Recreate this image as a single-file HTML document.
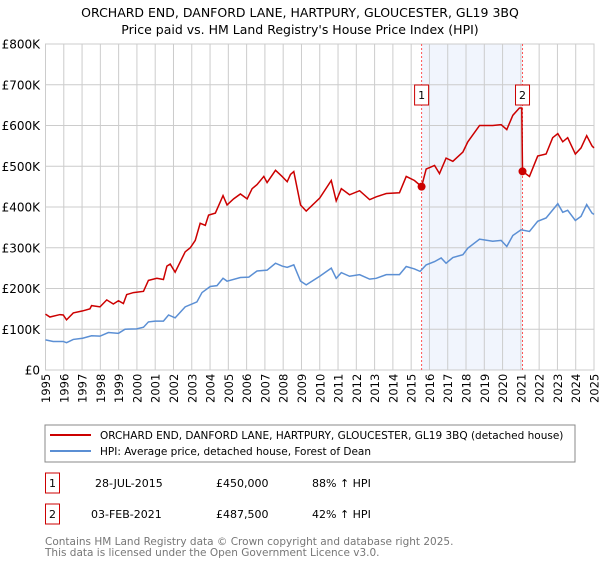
<!DOCTYPE html>
<html><head><meta charset="utf-8"><style>
body{margin:0;background:#fff;font-family:"Liberation Sans","DejaVu Sans",sans-serif;}
svg text{font-family:"DejaVu Sans","Liberation Sans",sans-serif;}
</style></head><body>
<svg id="c" width="600" height="560" xmlns="http://www.w3.org/2000/svg">
<text x="300" y="17" text-anchor="middle" font-size="12.5" fill="#000">ORCHARD END, DANFORD LANE, HARTPURY, GLOUCESTER, GL19 3BQ</text>
<text x="300" y="34" text-anchor="middle" font-size="12.5" fill="#000">Price paid vs. HM Land Registry's House Price Index (HPI)</text>
<g id="grid"></g>
<g id="marks"></g>
<g id="axes"></g>
<rect x="45" y="425" width="530" height="37" fill="#fff" stroke="#888"/>
<line x1="50" y1="435" x2="91" y2="435" stroke="#cc0000" stroke-width="2"/>
<text x="100" y="439" font-size="10.5">ORCHARD END, DANFORD LANE, HARTPURY, GLOUCESTER, GL19 3BQ (detached house)</text>
<line x1="50" y1="451" x2="91" y2="451" stroke="#5b8fd4" stroke-width="2"/>
<text x="100" y="455" font-size="10.5">HPI: Average price, detached house, Forest of Dean</text>
<g>
<rect x="45.5" y="473" width="14" height="20" fill="#fff" stroke="#cc0000"/>
<text x="52.5" y="487" text-anchor="middle" font-size="11">1</text>
<text x="95" y="487" font-size="11">28-JUL-2015</text>
<text x="216" y="487" font-size="11">£450,000</text>
<text x="312" y="487" font-size="11">88% ↑ HPI</text>
</g>
<g>
<rect x="45.5" y="504" width="14" height="20" fill="#fff" stroke="#cc0000"/>
<text x="52.5" y="518" text-anchor="middle" font-size="11">2</text>
<text x="91" y="518" font-size="11">03-FEB-2021</text>
<text x="216" y="518" font-size="11">£487,500</text>
<text x="312" y="518" font-size="11">42% ↑ HPI</text>
</g>
<text x="45" y="545" font-size="10.5" fill="#777">Contains HM Land Registry data © Crown copyright and database right 2025.</text>
<text x="45" y="556" font-size="10.5" fill="#777">This data is licensed under the Open Government Licence v3.0.</text>
</svg>
<script>
const yTicks=[0,100,200,300,400,500,600,700,800];
const yTickLabels=["£0","£100K","£200K","£300K","£400K","£500K","£600K","£700K","£800K"];
const xYears=[1995,1996,1997,1998,1999,2000,2001,2002,2003,2004,2005,2006,2007,2008,2009,2010,2011,2012,2013,2014,2015,2016,2017,2018,2019,2020,2021,2022,2023,2024,2025];
const hpiYears=[1995.0,1995.42,1995.97,1996.15,1996.52,1997.03,1997.52,1997.98,1998.44,1998.99,1999.35,1999.99,2000.36,2000.63,2001.0,2001.45,2001.73,2002.09,2002.64,2003.28,2003.56,2004.01,2004.38,2004.71,2004.93,2005.66,2006.12,2006.57,2007.12,2007.58,2007.94,2008.22,2008.58,2008.95,2009.26,2010.0,2010.63,2010.9,2011.18,2011.63,2012.18,2012.73,2013.09,2013.64,2014.36,2014.73,2015.18,2015.49,2015.82,2016.28,2016.64,2016.91,2017.28,2017.83,2018.1,2018.74,2019.46,2019.92,2020.23,2020.56,2021.01,2021.47,2021.92,2022.38,2023.02,2023.29,2023.56,2023.98,2024.29,2024.6,2024.89,2025.0];
const hpiValues=[74,70,70,67,75,78,84,83,92,90,100,101,105,118,120,120,135,128,155,167,190,205,207,225,218,227,228,243,245,262,255,252,258,218,209,230,250,225,239,230,234,223,225,234,234,254,248,242,258,266,275,262,276,283,299,321,316,318,303,330,344,340,365,373,408,387,392,367,377,406,385,382];
const priceYears=[1995.0,1995.24,1995.79,1995.97,1996.15,1996.52,1997.03,1997.43,1997.52,1997.98,1998.35,1998.71,1998.99,1999.26,1999.44,1999.81,2000.36,2000.63,2001.09,2001.45,2001.64,2001.82,2002.09,2002.64,2002.92,2003.19,2003.46,2003.74,2003.92,2004.29,2004.71,2004.93,2005.29,2005.66,2006.03,2006.3,2006.57,2006.94,2007.12,2007.58,2007.94,2008.22,2008.4,2008.58,2008.95,2009.26,2010.0,2010.63,2010.9,2011.18,2011.63,2012.18,2012.73,2013.09,2013.64,2014.36,2014.73,2015.18,2015.57,2015.82,2016.28,2016.55,2016.91,2017.28,2017.83,2018.1,2018.74,2019.46,2019.92,2020.23,2020.56,2020.92,2021.05,2021.09,2021.47,2021.92,2022.38,2022.74,2023.02,2023.29,2023.56,2023.98,2024.29,2024.6,2024.89,2025.0];
const priceValues=[137,130,136,135,123,140,145,150,158,155,172,162,170,163,185,190,193,220,225,222,255,260,240,290,300,318,360,355,380,385,428,405,420,432,420,445,455,475,460,490,475,462,480,487,405,390,422,465,415,445,430,440,418,425,433,435,475,465,450,493,502,482,520,512,535,560,600,600,602,590,625,643,643,487.5,475,525,530,570,580,560,570,530,545,575,550,545];
const saleYears=[2015.57,2021.09];
const saleValues=[450,487.5];
const saleLabels=["1","2"];

const NS="http://www.w3.org/2000/svg";
const X0=45.5,X1=594,Y0=370,Y1=44;
const xs=y=>X0+(y-1995)/30*(X1-X0);
const ys=v=>Y0-v/800*(Y0-Y1);
function mk(parent,tag,attrs){const e=document.createElementNS(NS,tag);for(const k in attrs)e.setAttribute(k,attrs[k]);parent.appendChild(e);return e;}
const grid=document.getElementById('grid'),marks=document.getElementById('marks'),axes=document.getElementById('axes');
// shaded band
const band=mk(grid,'rect',{x:xs(saleYears[0]),y:Y1,width:xs(saleYears[1])-xs(saleYears[0]),height:Y0-Y1,fill:'#eef3fc',opacity:'0.8'});


xYears.forEach(yr=>{
 const l=mk(grid,'line',{x1:xs(yr),x2:xs(yr),y1:Y1,y2:Y0,stroke:'#cccccc','stroke-width':1});
 
 
 const t=mk(axes,'text',{transform:`translate(${xs(yr)+4.5},${Y0+33}) rotate(-90)`,'font-size':'11.5',fill:'#000'});
 t.textContent=yr;
 
 
});
yTicks.forEach((v,i)=>{
 const l=mk(grid,'line',{x1:X0,x2:X1,y1:ys(v),y2:ys(v),stroke:'#cccccc','stroke-width':1});
 
 
 const t=mk(axes,'text',{x:40,y:ys(v)+4.5,'text-anchor':'end','font-size':'12',fill:'#000'});
 t.textContent=yTickLabels[i];
 
 
});
const border=mk(grid,'rect',{x:X0,y:Y1,width:X1-X0,height:Y0-Y1,fill:'none',stroke:'#cccccc'});


saleYears.forEach((yr,i)=>{
 const l=mk(marks,'line',{x1:xs(yr),x2:xs(yr),y1:Y1,y2:Y0,stroke:'#ff5555','stroke-width':1,'stroke-dasharray':'2,2'});
 
 
});
const hp=mk(marks,'polyline',{points:hpiYears.map((y,i)=>xs(y)+','+ys(hpiValues[i])).join(' '),fill:'none',stroke:'#5b8fd4','stroke-width':1.5});


const pp=mk(marks,'polyline',{points:priceYears.map((y,i)=>xs(y)+','+ys(priceValues[i])).join(' '),fill:'none',stroke:'#cc0000','stroke-width':1.5});


saleYears.forEach((yr,i)=>{
 const c=mk(marks,'circle',{cx:xs(yr),cy:ys(saleValues[i]),r:4,fill:'#cc0000'});
 
 
 const b=mk(marks,'rect',{x:xs(yr)-7,y:85,width:14,height:20,fill:'#fff',stroke:'#cc0000'});
 
 
 const t=mk(marks,'text',{x:xs(yr),y:99,'text-anchor':'middle','font-size':'11'});
 t.textContent=saleLabels[i];
 
 
});
</script>
</body></html>
